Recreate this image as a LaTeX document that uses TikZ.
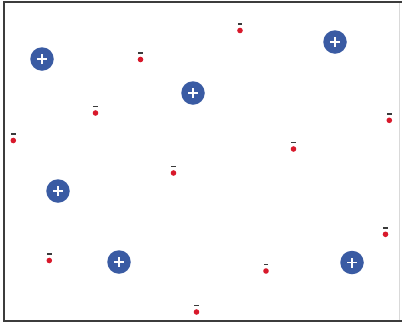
\documentclass[tikz,border=0pt]{standalone}
\definecolor{pblue}{HTML}{3A5BA3}
\definecolor{ered}{HTML}{D8192B}
\definecolor{mgray}{HTML}{3A3A3A}
\definecolor{frame}{HTML}{3C3C3C}
\tikzset{
  proton/.style={circle, fill=pblue, minimum size=23.5pt, inner sep=0pt,
    path picture={\draw[white, line width=1.8pt]
      (path picture bounding box.center) ++(-5pt,0) -- ++(10pt,0)
      (path picture bounding box.center) ++(0,-5pt) -- ++(0,10pt);}},
  electron/.style={circle, fill=ered, minimum size=5.6pt, inner sep=0pt,
    label={[fill=mgray, inner sep=0pt, minimum width=4.8pt, minimum height=1.5pt, label distance=2.6pt]above:{}}},
  frameline/.style={draw=frame, line width=2pt}
}
\begin{document}
\begin{tikzpicture}[x=1pt, y=-1pt]
\useasboundingbox[fill=white] (0,0) rectangle (402,325);
% frame
\coordinate (tl) at (4,2);
\coordinate (bl) at (4,321);
\coordinate (trr) at (402,2);
\coordinate (brr) at (402,321);
\draw[frameline] (trr) -- (tl) -- (bl) -- (brr);
\coordinate (rt) at (399.5,3);
\coordinate (rb) at (399.5,320);
\draw[black!15, line width=0.8pt] (rt) -- (rb);
% protons
\node[proton] (p1) at (42,59) {};
\node[proton] (p2) at (193,93) {};
\node[proton] (p3) at (335,42) {};
\node[proton] (p4) at (58,191) {};
\node[proton] (p5) at (119,262) {};
\node[proton] (p6) at (352,262.5) {};
% electrons
\node[electron] (e1) at (140.5,59.5) {};
\node[electron] (e2) at (95.5,113) {};
\node[electron] (e3) at (13.3,140.5) {};
\node[electron] (e4) at (240,30.5) {};
\node[electron] (e5) at (389.3,120.3) {};
\node[electron] (e6) at (293.5,149) {};
\node[electron] (e7) at (173.5,173) {};
\node[electron] (e8) at (49.3,260.5) {};
\node[electron] (e9) at (196.5,312) {};
\node[electron] (e10) at (385.5,234.3) {};
\node[electron] (e11) at (266,271) {};
\end{tikzpicture}
\end{document}
